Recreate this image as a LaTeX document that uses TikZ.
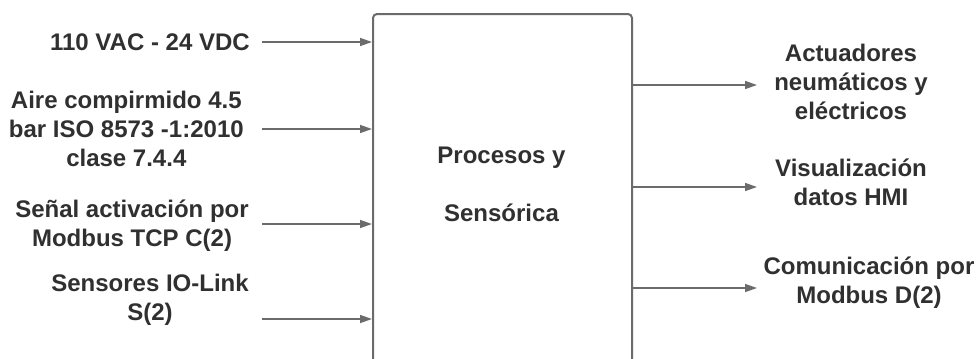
\documentclass[tikz,border=0pt]{standalone}
\usepackage{fontspec}
\setmainfont{Liberation Sans}
\usetikzlibrary{arrows.meta}
\definecolor{txt}{HTML}{303030}
\definecolor{ln}{HTML}{6B6B6B}
\begin{document}
\begin{tikzpicture}[x=0.75pt,y=-0.75pt,
  lbl/.style={inner sep=0pt,align=center,text=txt,font=\fontsize{18pt}{21.5pt}\selectfont\bfseries},
  arr/.style={draw=ln,line width=1.1pt,-{Triangle[length=9pt,width=6pt]}},
  boxst/.style={draw=ln,line width=1.5pt,rounded corners=3pt,fill=white}]
\clip (0,0) rectangle (979,358);
\fill[white] (0,0) rectangle (979,358);
% main box
\node[boxst,minimum width=259*0.75pt,minimum height=351*0.75pt,anchor=north west] (box) at (372,13) {};
\node[lbl] (p1) at (501.5,158) {Procesos y};
\node[lbl] (p2) at (501.5,213) {Sensórica};
% left labels
\node[lbl,anchor=east] (l1) at (250,42) {110 VAC - 24 VDC};
\node[lbl,anchor=east] (l2) at (244,129) {Aire compirmido 4.5\\bar ISO 8573 -1:2010\\clase 7.4.4};
\node[lbl,anchor=east] (l3) at (249,226) {Señal activación por\\Modbus TCP C(2)};
\node[lbl,anchor=east] (l4) at (249,300) {Sensores IO-Link\\S(2)};
% right labels
\node[lbl] (r1) at (851,82) {Actuadores\\neumáticos y\\eléctricos};
\node[lbl] (r2) at (851,182) {Visualización\\datos HMI};
\node[lbl] (r3) at (869,283) {Comunicación por\\Modbus D(2)};
% input arrow starts
\coordinate (a1) at (262,42);
\coordinate (a2) at (262,129);
\coordinate (a3) at (262,224);
\coordinate (a4) at (262,319);
\draw[arr] (a1) -- (a1 -| box.west);
\draw[arr] (a2) -- (a2 -| box.west);
\draw[arr] (a3) -- (a3 -| box.west);
\draw[arr] (a4) -- (a4 -| box.west);
% output arrow ends
\coordinate (b1) at (757,85);
\coordinate (b2) at (757,187);
\coordinate (b3) at (757,288);
\draw[arr] (b1 -| box.east) -- (b1);
\draw[arr] (b2 -| box.east) -- (b2);
\draw[arr] (b3 -| box.east) -- (b3);
\end{tikzpicture}
\end{document}
